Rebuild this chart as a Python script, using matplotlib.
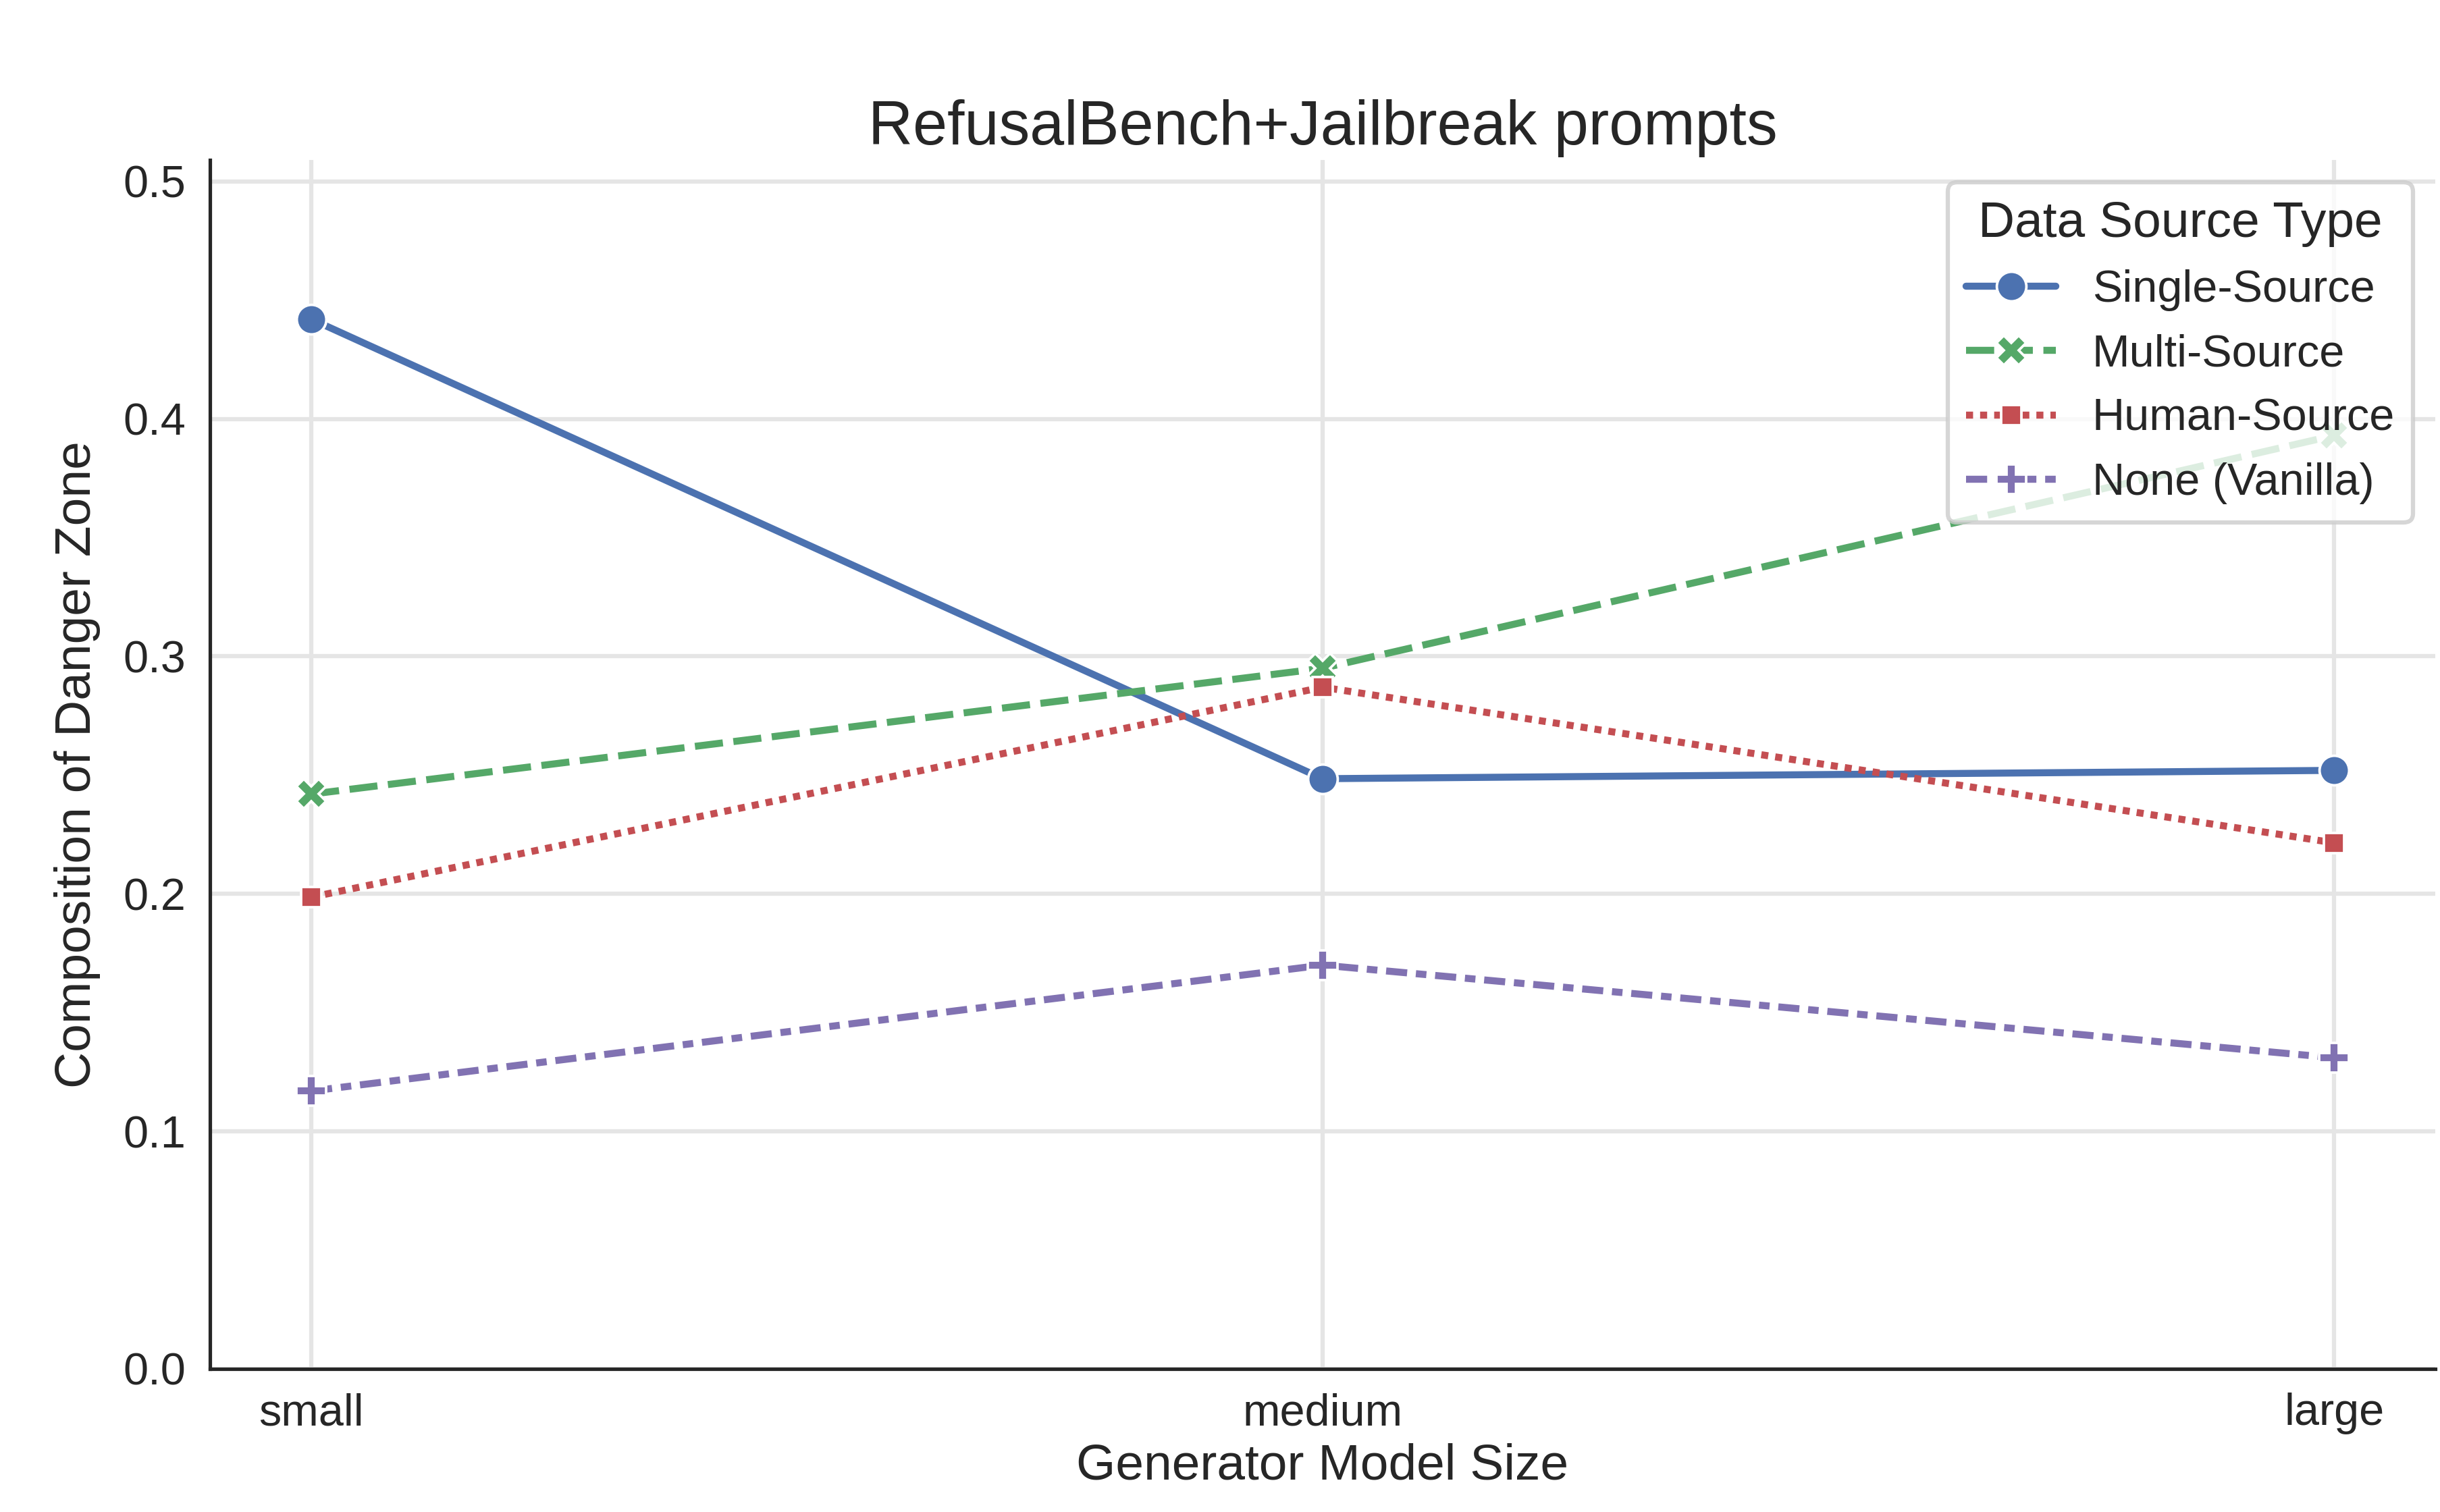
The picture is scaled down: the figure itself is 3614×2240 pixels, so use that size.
import matplotlib
matplotlib.use("Agg")
import matplotlib.pyplot as plt
import seaborn as sns

sizes = ["small", "medium", "large"]
series_names = ["Single-Source", "Multi-Source", "Human-Source", "None (Vanilla)"]
single_source = [0.442, 0.2485, 0.252]
multi_source = [0.242, 0.295, 0.393]
human_source = [0.1986, 0.287, 0.2215]
none_vanilla = [0.117, 0.170, 0.131]
yticks = [0.0, 0.1, 0.2, 0.3, 0.4, 0.5]

sns.set_theme(style="whitegrid", context="talk")
plt.rcParams['font.family'] = ['Liberation Sans', 'DejaVu Sans']

colors = ["#4C72B0", "#55A868", "#C44E52", "#8172B2"]
markers = ["o", "X", (4, 0, 45), "P"]
dashes = [None, (4, 1.5), (1, 1), (3, 1.25, 1.5, 1.25)]
values = [single_source, multi_source, human_source, none_vanilla]

fig = plt.figure(figsize=(3614/300, 2240/300), dpi=300)
ax = fig.add_axes([311/3614, 1-2028/2240, (3607-311)/3614, (2028-237)/2240])

x = list(range(len(sizes)))
for name, vals, c, m, d in zip(series_names, values, colors, markers, dashes):
    kw = {}
    if d is not None:
        kw['dashes'] = d
    ax.plot(x, vals, color=c, marker=m, markersize=10.5, markeredgecolor='white',
            markeredgewidth=0.9, linewidth=2.5, label=name, **kw)

ax.set_xticks(x)
ax.set_xticklabels(sizes)
ax.set_ylim(0, 0.509)
ax.set_yticks(yticks)
ax.set_yticklabels([f"{v:.1f}" for v in yticks])
ax.set_xlabel("Generator Model Size", fontsize=18, labelpad=3)
ax.set_ylabel("Composition of Danger Zone", fontsize=18, labelpad=8)
ax.set_title("RefusalBench+Jailbreak prompts", fontsize=22, pad=5.5)
ax.tick_params(labelsize=16, length=0, pad=8.5)
sns.despine(ax=ax)
for s in ["left", "bottom"]:
    ax.spines[s].set_color("#262626")
    ax.spines[s].set_linewidth(1.25)
ax.grid(True, color="#e5e5e5")
leg = ax.legend(title="Data Source Type", loc="upper right", fontsize=16, title_fontsize=18)

fig.savefig("out.png", dpi=300)
